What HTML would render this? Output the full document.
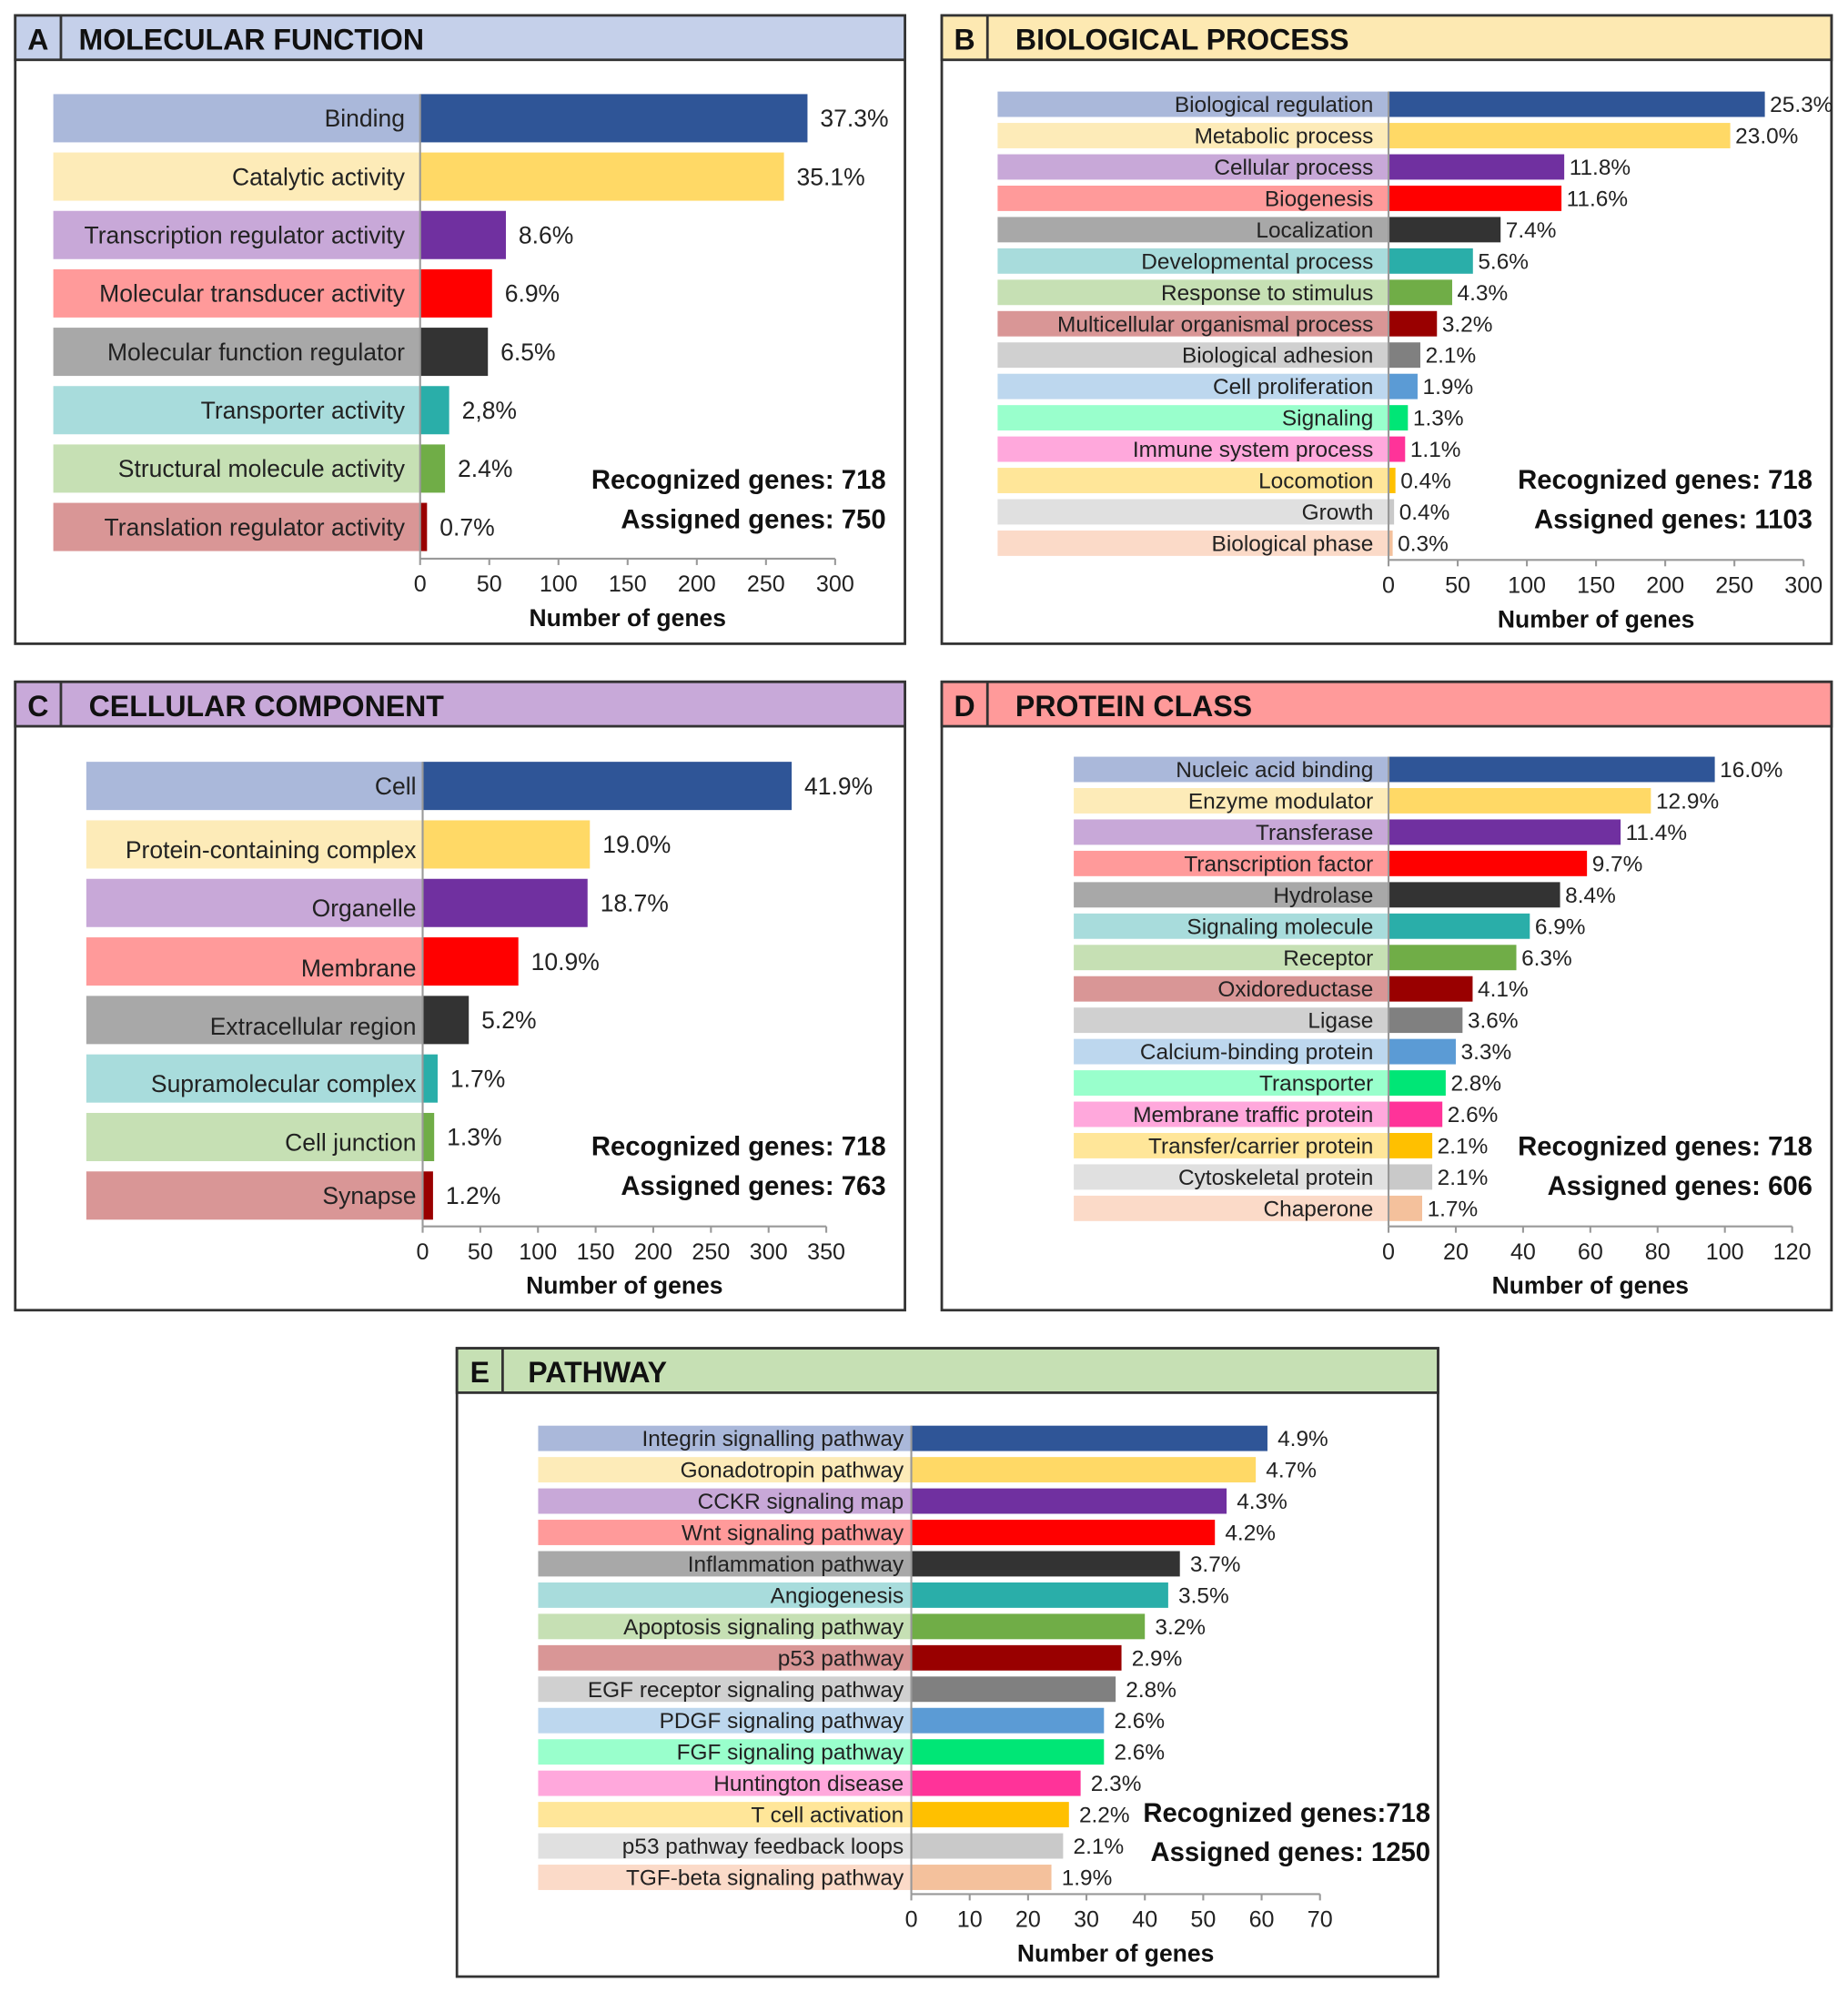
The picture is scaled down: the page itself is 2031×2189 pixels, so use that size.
<!DOCTYPE html>
<html><head><meta charset="utf-8">
<style>
html,body{margin:0;padding:0;background:#fff;}
svg{display:block;font-family:"Liberation Sans",sans-serif;}
</style></head>
<body>
<svg id="chart" width="2031" height="2189" viewBox="0 0 1456 1569" xmlns="http://www.w3.org/2000/svg"></svg>
<script>
const mainColors=["#2f5597","#ffd966","#7030a0","#ff0000","#333333","#2aaea9","#70ad47","#990000","#808080","#5b9bd5","#00e676","#ff3399","#ffc000","#c9c9c9","#f4c19c"];
const bgColors=["#aab8da","#fdebb8","#c8a8d8","#ff9a9a","#a8a8a8","#a8dcdc","#c6e0b4","#d99696","#d0d0d0","#bdd7ee","#99ffcc","#ffa8dc","#ffe699","#e0e0e0","#fbdac8"];

const aCats=["Binding","Catalytic activity","Transcription regulator activity","Molecular transducer activity","Molecular function regulator","Transporter activity","Structural molecule activity","Translation regulator activity"];
const aVals=[280,263,62,52,49,21,18,5];
const aPct=["37.3%","35.1%","8.6%","6.9%","6.5%","2,8%","2.4%","0.7%"];
const aTicks=[0,50,100,150,200,250,300];

const bCats=["Biological regulation","Metabolic process","Cellular process","Biogenesis","Localization","Developmental process","Response to stimulus","Multicellular organismal process","Biological adhesion","Cell proliferation","Signaling","Immune system process","Locomotion","Growth","Biological phase"];
const bVals=[272,247,127,125,81,61,46,35,23,21,14,12,5,4,3];
const bPct=["25.3%","23.0%","11.8%","11.6%","7.4%","5.6%","4.3%","3.2%","2.1%","1.9%","1.3%","1.1%","0.4%","0.4%","0.3%"];
const bTicks=[0,50,100,150,200,250,300];

const cCats=["Cell","Protein-containing complex","Organelle","Membrane","Extracellular region","Supramolecular complex","Cell junction","Synapse"];
const cVals=[320,145,143,83,40,13,10,9];
const cPct=["41.9%","19.0%","18.7%","10.9%","5.2%","1.7%","1.3%","1.2%"];
const cTicks=[0,50,100,150,200,250,300,350];

const dCats=["Nucleic acid binding","Enzyme modulator","Transferase","Transcription factor","Hydrolase","Signaling molecule","Receptor","Oxidoreductase","Ligase","Calcium-binding protein","Transporter","Membrane traffic protein","Transfer/carrier protein","Cytoskeletal protein","Chaperone"];
const dVals=[97,78,69,59,51,42,38,25,22,20,17,16,13,13,10];
const dPct=["16.0%","12.9%","11.4%","9.7%","8.4%","6.9%","6.3%","4.1%","3.6%","3.3%","2.8%","2.6%","2.1%","2.1%","1.7%"];
const dTicks=[0,20,40,60,80,100,120];

const eCats=["Integrin signalling pathway","Gonadotropin pathway","CCKR signaling map","Wnt signaling pathway","Inflammation  pathway","Angiogenesis","Apoptosis signaling pathway","p53 pathway","EGF receptor signaling pathway","PDGF signaling pathway","FGF signaling pathway","Huntington disease","T cell activation","p53 pathway feedback loops","TGF-beta signaling pathway"];
const eVals=[61,59,54,52,46,44,40,36,35,33,33,29,27,26,24];
const ePct=["4.9%","4.7%","4.3%","4.2%","3.7%","3.5%","3.2%","2.9%","2.8%","2.6%","2.6%","2.3%","2.2%","2.1%","1.9%"];
const eTicks=[0,10,20,30,40,50,60,70];

const NS="http://www.w3.org/2000/svg";
const svg=document.getElementById('chart');
function mk(tag,attrs,parent,text){const e=document.createElementNS(NS,tag);for(const k in attrs)e.setAttribute(k,attrs[k]);if(text!==undefined)e.textContent=text;(parent||svg).appendChild(e);return e;}

function panel(p){
  const g=mk('g',{});
  
  
  const box=mk('rect',{x:p.x,y:p.y,width:p.w,height:p.h,fill:'#fff',stroke:'#333','stroke-width':2},g);
  
  
  const hd=mk('rect',{x:p.x,y:p.y,width:p.w,height:35,fill:p.hc,stroke:'#333','stroke-width':2},g);
  
  
  mk('line',{x1:p.x+36,y1:p.y,x2:p.x+36,y2:p.y+35,stroke:'#333','stroke-width':2},g);
  const lt=mk('text',{x:p.x+18,y:p.y+27,'font-size':23,'font-weight':'bold','text-anchor':'middle',fill:'#111'},g,p.letter);
  
  
  const tt=mk('text',{x:p.x+p.tx,y:p.y+27,'font-size':23,'font-weight':'bold',fill:'#111'},g,p.title);
  
  
  const sx=v=>p.x0+(v/p.max)*(p.x1-p.x0);
  p.cats.forEach((c,i)=>{
    const cy=p.r0+i*p.step;
    const lb=mk('rect',{x:p.lx,y:cy-p.bh/2,width:p.x0-p.lx,height:p.bh,fill:bgColors[i]},g);
    
    
    const t=mk('text',{x:p.x0-(p.lpad||12),y:cy+p.fs*0.35+(p.ldy?p.ldy[i]:0),'font-size':p.fs,'text-anchor':'end',fill:'#222'},g,c);
    
    
    const b=mk('rect',{x:sx(0),y:cy-p.bh/2,width:sx(p.vals[i])-sx(0),height:p.bh,fill:mainColors[i]},g);
    
    
    const v=mk('text',{x:sx(p.vals[i])+(p.vpad||10),y:cy+p.fs*0.35,'font-size':p.fs,fill:'#222'},g,p.pct[i]);
    
    
  });
  const top=p.r0-p.bh/2;
  mk('line',{x1:p.x0,y1:top,x2:p.x0,y2:p.ay,stroke:'#999','stroke-width':1.5},g);
  const ax=mk('line',{x1:p.x0,y1:p.ay,x2:p.x1,y2:p.ay,stroke:'#999','stroke-width':1.5},g);
  
  
  p.ticks.forEach(tv=>{
    mk('line',{x1:sx(tv),y1:p.ay,x2:sx(tv),y2:p.ay+5,stroke:'#999','stroke-width':1.5},g);
    const tl=mk('text',{x:sx(tv),y:p.ay+26,'font-size':18,'text-anchor':'middle',fill:'#222'},g,tv);
    
    
  });
  const at=mk('text',{x:(p.x0+p.x1)/2,y:p.ay+53,'font-size':19,'font-weight':'bold','text-anchor':'middle',fill:'#111'},g,'Number of genes');
  
  
  const r1=mk('text',{x:p.rx,y:p.ry,'font-size':21,'font-weight':'bold','text-anchor':'end',fill:'#111'},g,p.rec);
  
  
  const r2=mk('text',{x:p.rx,y:p.ry+31,'font-size':21,'font-weight':'bold','text-anchor':'end',fill:'#111'},g,p.asg);
  
  
}

panel({letter:'A',title:'MOLECULAR FUNCTION',hc:'#c5d0ea',x:12,y:12,w:701,h:495,tx:50,x0:331,x1:658,max:300,ticks:aTicks,cats:aCats,vals:aVals,pct:aPct,r0:93,step:46,bh:38,lx:42,fs:19,ay:440,rx:698,ry:385,rec:'Recognized genes: 718',asg:'Assigned genes: 750'});
panel({letter:'B',title:'BIOLOGICAL PROCESS',hc:'#fde9b2',x:742,y:12,w:701,h:495,tx:58,x0:1094,x1:1421,max:300,ticks:bTicks,cats:bCats,vals:bVals,pct:bPct,r0:82,step:24.7,bh:20,lx:786,fs:17.5,ay:441,vpad:4,rx:1428,ry:385,rec:'Recognized genes: 718',asg:'Assigned genes: 1103'});
panel({letter:'C',title:'CELLULAR COMPONENT',hc:'#c8a9d9',x:12,y:537,w:701,h:495,tx:58,x0:333,x1:651,max:350,ticks:cTicks,cats:cCats,vals:cVals,pct:cPct,r0:619,step:46.1,bh:38,lx:68,fs:19,lpad:5,ldy:[0,4,4,5,5,4,4,0],ay:966,rx:698,ry:910,rec:'Recognized genes: 718',asg:'Assigned genes: 763'});
panel({letter:'D',title:'PROTEIN CLASS',hc:'#ff9a9a',x:742,y:537,w:701,h:495,tx:58,x0:1094,x1:1412,max:120,ticks:dTicks,cats:dCats,vals:dVals,pct:dPct,r0:606,step:24.7,bh:20,lx:846,fs:17.5,ay:966,vpad:4,rx:1428,ry:910,rec:'Recognized genes: 718',asg:'Assigned genes: 606'});
panel({letter:'E',title:'PATHWAY',hc:'#c6e0b4',x:360,y:1062,w:773,h:495,tx:56,x0:718,x1:1040,max:70,ticks:eTicks,cats:eCats,vals:eVals,pct:ePct,r0:1133,step:24.7,bh:20,lx:424,fs:17.5,ay:1492,vpad:8,lpad:6,rx:1127,ry:1435,rec:'Recognized genes:718',asg:'Assigned genes: 1250'});
</script>
</body></html>
